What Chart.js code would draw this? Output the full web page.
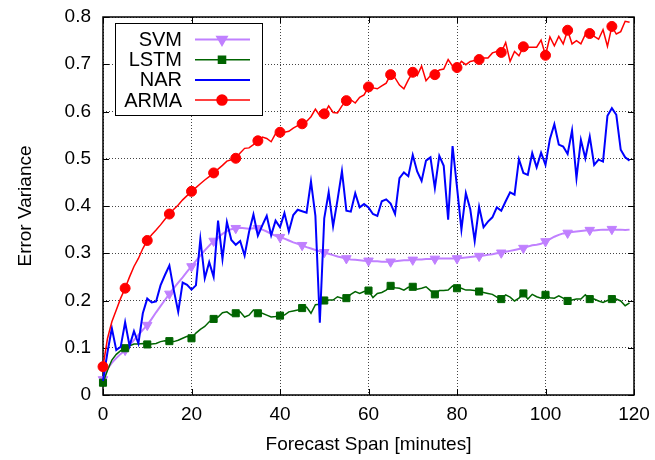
<!DOCTYPE html>
<html>
<head>
<meta charset="utf-8">
<script src="https://cdn.jsdelivr.net/npm/chart.js@4.4.1/dist/chart.umd.min.js"></script>
<style>
  html, body { margin: 0; padding: 0; background: #fff; }
  #wrap { width: 655px; height: 460px; }
</style>
</head>
<body>
<div id="wrap"><canvas id="chart" width="655" height="460"></canvas></div>
<script>
// Forecast span in minutes (one sample per minute)
const minutes = Array.from({ length: 120 }, (_, i) => i);

const svm = [
  0.033, 0.055, 0.068, 0.078, 0.087, 0.095, 0.105, 0.116, 0.127, 0.138,
  0.148, 0.161, 0.175, 0.188, 0.201, 0.214, 0.226, 0.238, 0.249, 0.261,
  0.272, 0.284, 0.295, 0.306, 0.316, 0.326, 0.334, 0.341, 0.347, 0.351,
  0.353, 0.354, 0.353, 0.352, 0.353, 0.353, 0.350, 0.346, 0.341, 0.337,
  0.334, 0.331, 0.327, 0.323, 0.320, 0.317, 0.313, 0.310, 0.307, 0.304,
  0.302, 0.299, 0.296, 0.293, 0.291, 0.289, 0.287, 0.286, 0.285, 0.284,
  0.284, 0.283, 0.283, 0.282, 0.282, 0.282, 0.283, 0.284, 0.285, 0.285,
  0.286, 0.287, 0.287, 0.288, 0.288, 0.288, 0.289, 0.289, 0.289, 0.289,
  0.289, 0.290, 0.291, 0.292, 0.293, 0.294, 0.295, 0.297, 0.298, 0.300,
  0.301, 0.303, 0.305, 0.307, 0.309, 0.311, 0.314, 0.317, 0.318, 0.320,
  0.325, 0.330, 0.335, 0.339, 0.342, 0.343, 0.345, 0.346, 0.347, 0.348,
  0.349, 0.348, 0.349, 0.350, 0.350, 0.351, 0.350, 0.350, 0.349, 0.350
];

const lstm = [
  0.026, 0.052, 0.074, 0.086, 0.094, 0.099, 0.104, 0.108, 0.108, 0.109,
  0.107, 0.108, 0.109, 0.113, 0.115, 0.114, 0.113, 0.116, 0.120, 0.124,
  0.120, 0.131, 0.139, 0.145, 0.155, 0.161, 0.165, 0.174, 0.176, 0.169,
  0.173, 0.176, 0.165, 0.169, 0.180, 0.173, 0.173, 0.169, 0.165, 0.166,
  0.168, 0.169, 0.176, 0.178, 0.180, 0.184, 0.186, 0.173, 0.191, 0.192,
  0.200, 0.201, 0.201, 0.208, 0.205, 0.205, 0.213, 0.219, 0.215, 0.219,
  0.221, 0.206, 0.215, 0.217, 0.222, 0.231, 0.227, 0.226, 0.222, 0.228,
  0.229, 0.224, 0.226, 0.229, 0.221, 0.213, 0.221, 0.221, 0.222, 0.231,
  0.226, 0.226, 0.222, 0.222, 0.221, 0.219, 0.217, 0.215, 0.213, 0.207,
  0.203, 0.212, 0.207, 0.199, 0.205, 0.215, 0.203, 0.213, 0.208, 0.205,
  0.212, 0.206, 0.205, 0.210, 0.205, 0.199, 0.201, 0.203, 0.203, 0.212,
  0.203, 0.203, 0.199, 0.196, 0.200, 0.203, 0.203, 0.199, 0.189, 0.195
];

const nar = [
  0.030, 0.090, 0.141, 0.095, 0.102, 0.154, 0.104, 0.135, 0.109, 0.173,
  0.204, 0.196, 0.198, 0.232, 0.254, 0.274, 0.222, 0.176, 0.238, 0.233,
  0.223, 0.232, 0.330, 0.247, 0.281, 0.250, 0.369, 0.288, 0.366, 0.328,
  0.318, 0.326, 0.295, 0.345, 0.382, 0.337, 0.359, 0.379, 0.338, 0.369,
  0.355, 0.385, 0.346, 0.381, 0.392, 0.389, 0.386, 0.452, 0.379, 0.153,
  0.374, 0.429, 0.357, 0.413, 0.474, 0.390, 0.388, 0.427, 0.397, 0.404,
  0.397, 0.383, 0.379, 0.410, 0.414, 0.405, 0.383, 0.459, 0.471, 0.463,
  0.508, 0.473, 0.453, 0.496, 0.503, 0.438, 0.506, 0.485, 0.371, 0.527,
  0.440, 0.350, 0.427, 0.393, 0.326, 0.398, 0.355, 0.367, 0.376, 0.397,
  0.390, 0.410, 0.429, 0.424, 0.499, 0.470, 0.466, 0.512, 0.482, 0.513,
  0.487, 0.542, 0.573, 0.530, 0.526, 0.510, 0.560, 0.459, 0.540, 0.501,
  0.547, 0.487, 0.498, 0.494, 0.591, 0.607, 0.593, 0.519, 0.503, 0.496
];

const arma = [
  0.060, 0.119, 0.155, 0.180, 0.205, 0.226, 0.250, 0.272, 0.289, 0.310,
  0.327, 0.339, 0.349, 0.360, 0.372, 0.383, 0.393, 0.402, 0.413, 0.422,
  0.431, 0.439, 0.447, 0.455, 0.462, 0.470, 0.478, 0.486, 0.495, 0.498,
  0.501, 0.512, 0.522, 0.523, 0.530, 0.538, 0.546, 0.543, 0.536, 0.553,
  0.556, 0.556, 0.558, 0.565, 0.570, 0.574, 0.579, 0.589, 0.605, 0.591,
  0.595, 0.612, 0.598, 0.597, 0.612, 0.623, 0.625, 0.618, 0.630, 0.635,
  0.652, 0.650, 0.648, 0.654, 0.660, 0.678, 0.671, 0.656, 0.648, 0.667,
  0.683, 0.676, 0.696, 0.665, 0.676, 0.678, 0.688, 0.690, 0.710, 0.696,
  0.693, 0.706, 0.699, 0.706, 0.708, 0.710, 0.713, 0.713, 0.724, 0.727,
  0.725, 0.746, 0.706, 0.727, 0.718, 0.737, 0.736, 0.736, 0.736, 0.751,
  0.719, 0.758, 0.739, 0.759, 0.743, 0.772, 0.743, 0.750, 0.743, 0.763,
  0.765, 0.759, 0.753, 0.773, 0.738, 0.780, 0.764, 0.769, 0.791, 0.789
];

const xTicks = [0, 20, 40, 60, 80, 100, 120];
const yTicks = [0, 0.1, 0.2, 0.3, 0.4, 0.5, 0.6, 0.7, 0.8];

const FONT = "'Liberation Sans', Arial, Helvetica, sans-serif";

// marker on every 5th sample, like gnuplot's pointinterval
const every5 = r => ctx => (ctx.dataIndex % 5 === 0 ? r : 0);

function toXY(values) {
  return values.map((v, i) => ({ x: minutes[i], y: v }));
}

const series = [
  { label: "SVM", data: svm, color: "#c080ff", width: 2, style: "triangle", rot: 180, r: 5.5, order: 4 },
  { label: "LSTM", data: lstm, color: "#006400", width: 1.5, style: "rect", rot: 0, r: 5, order: 3 },
  { label: "NAR", data: nar, color: "#0000ff", width: 2, style: false, rot: 0, r: 0, order: 2 },
  { label: "ARMA", data: arma, color: "#ff0000", width: 1.5, style: "circle", rot: 0, r: 5, order: 1 }
];

// inward ticks + solid frame, gnuplot style
const framePlugin = {
  id: "frame",
  beforeDatasetsDraw(chart) {
    const { ctx, chartArea: a, scales } = chart;
    const len = 6;
    ctx.save();
    ctx.strokeStyle = "#000";
    ctx.lineWidth = 1;
    ctx.beginPath();
    xTicks.forEach(t => {
      const px = Math.round(scales.x.getPixelForValue(t)) + 0.5;
      ctx.moveTo(px, a.bottom); ctx.lineTo(px, a.bottom - len);
      ctx.moveTo(px, a.top); ctx.lineTo(px, a.top + len);
    });
    yTicks.forEach(t => {
      const py = Math.round(scales.y.getPixelForValue(t)) + 0.5;
      ctx.moveTo(a.left, py); ctx.lineTo(a.left + len, py);
      ctx.moveTo(a.right, py); ctx.lineTo(a.right - len, py);
    });
    ctx.stroke();
    ctx.lineWidth = 1.5;
    ctx.strokeRect(a.left, a.top, a.right - a.left, a.bottom - a.top);
    ctx.restore();
  }
};

// boxed legend at top-left of the plot
const legendPlugin = {
  id: "boxLegend",
  afterDatasetsDraw(chart) {
    const ctx = chart.ctx;
    const box = { x: 115, y: 23, w: 147, h: 92 };
    ctx.save();
    ctx.fillStyle = "#fff";
    ctx.fillRect(box.x, box.y, box.w, box.h);
    ctx.strokeStyle = "#000";
    ctx.lineWidth = 1;
    ctx.strokeRect(box.x + 0.5, box.y + 0.5, box.w, box.h);
    ctx.font = "20px " + FONT;
    ctx.textAlign = "right";
    ctx.textBaseline = "middle";
    series.forEach((s, i) => {
      const y = 39.5 + i * 20.2;
      ctx.fillStyle = "#000";
      ctx.fillText(s.label, 182, y + 1);
      ctx.strokeStyle = s.color;
      ctx.lineWidth = s.width;
      ctx.beginPath();
      ctx.moveTo(195, y);
      ctx.lineTo(250, y);
      ctx.stroke();
      if (s.style) {
        ctx.fillStyle = s.color;
        Chart.helpers.drawPoint(ctx, { pointStyle: s.style, rotation: s.rot, radius: s.r, borderWidth: 1 }, 222, y);
        ctx.fill();
      }
    });
    ctx.restore();
  }
};

new Chart(document.getElementById("chart"), {
  type: "line",
  data: {
    datasets: series.map(s => ({
      label: s.label,
      data: toXY(s.data),
      borderColor: s.color,
      backgroundColor: s.color,
      borderWidth: s.width,
      pointStyle: s.style || "circle",
      pointRotation: s.rot,
      pointRadius: every5(s.r),
      pointHoverRadius: 0,
      pointBorderWidth: 1,
      tension: 0,
      order: s.order,
      clip: false
    }))
  },
  options: {
    responsive: false,
    animation: false,
    devicePixelRatio: 1,
    layout: { padding: { top: 17, right: 21, left: 0, bottom: 0 } },
    plugins: { legend: { display: false }, tooltip: { enabled: false } },
    scales: {
      x: {
        type: "linear",
        min: 0,
        max: 120,
        afterFit: s => { s.height = 65; s.paddingLeft = 0; s.paddingRight = 0; },
        afterBuildTicks: s => { s.ticks = xTicks.map(v => ({ value: v })); },
        grid: { color: "#444", lineWidth: 1, drawTicks: false },
        border: { display: false, dash: [1, 2] },
        ticks: { padding: 8, color: "#000", font: { family: FONT, size: 19 } },
        title: {
          display: true,
          text: "Forecast Span [minutes]",
          color: "#000",
          font: { family: FONT, size: 19, lineHeight: 1 },
          padding: { top: 0, bottom: 6 }
        }
      },
      y: {
        min: 0,
        max: 0.8,
        afterFit: s => { s.width = 103; s.paddingTop = 0; s.paddingBottom = 0; },
        afterBuildTicks: s => { s.ticks = yTicks.map(v => ({ value: v })); },
        grid: { color: "#444", lineWidth: 1, drawTicks: false },
        border: { display: false, dash: [1, 2] },
        ticks: {
          padding: 12,
          color: "#000",
          font: { family: FONT, size: 19 },
          callback: v => (v === 0 ? "0" : v.toFixed(1))
        },
        title: {
          display: true,
          text: "Error Variance",
          color: "#000",
          font: { family: FONT, size: 19, lineHeight: 1 },
          padding: { top: 16, bottom: 0 }
        }
      }
    }
  },
  plugins: [framePlugin, legendPlugin]
});
</script>
</body>
</html>
